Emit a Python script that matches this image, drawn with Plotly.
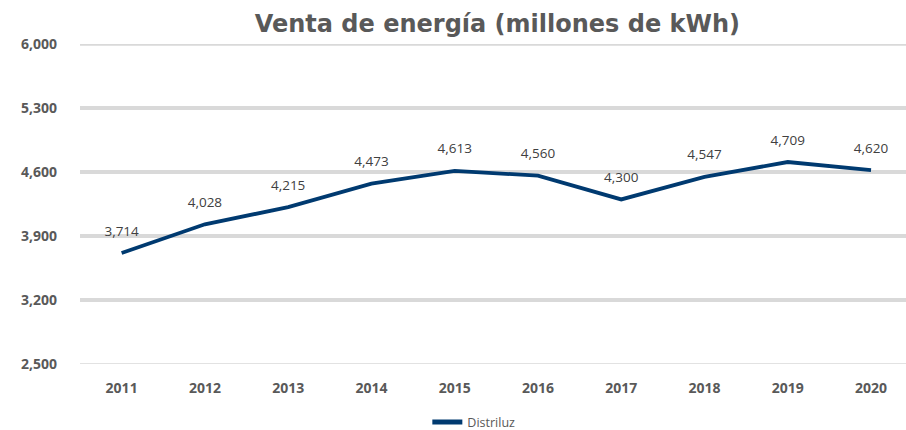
import plotly.graph_objects as go

years = ["2011", "2012", "2013", "2014", "2015", "2016", "2017", "2018", "2019", "2020"]
ventas = [3714, 4028, 4215, 4473, 4613, 4560, 4300, 4547, 4709, 4620]
y_ticks = [2500, 3200, 3900, 4600, 5300, 6000]
series_name = "Distriluz"
title = "Venta de energía (millones de kWh)"

fig = go.Figure()
fig.add_trace(go.Scatter(
    x=years, y=ventas, mode="lines+markers+text", name=series_name,
    line=dict(color="#003A70", width=3.8),
    marker=dict(size=21, color="rgba(0,0,0,0)"),
    text=[f"{v:,}" for v in ventas], textposition="top center",
    textfont=dict(family="Open Sans", size=13.5, color="#404040"),
    cliponaxis=False,
))

fig.update_layout(
    width=906, height=430,
    margin=dict(l=80, r=0, t=44, b=66, autoexpand=False),
    plot_bgcolor="white", paper_bgcolor="white",
    title=dict(text=f"<b>{title}</b>", x=0.549, xanchor="center", xref="container",
               y=0.945, yanchor="middle", yref="container",
               font=dict(family="DejaVu Sans", size=24, color="#595959")),
    showlegend=True,
    legend=dict(orientation="h", x=0.523, xanchor="center", xref="container",
                y=0.018, yanchor="middle", yref="container", itemsizing="constant",
                font=dict(family="Open Sans", size=12.5, color="#595959")),
    xaxis=dict(type="category", range=[-0.5, 9.42], showgrid=False, showline=False,
               automargin=False, ticklabelstandoff=14,
               ticks="", tickfont=dict(family="Open Sans", size=14, color="#595959"),
               tickprefix="<b>", ticksuffix="</b>"),
    yaxis=dict(range=[2500, 6000], tickvals=y_ticks, ticktext=[f"<b>{v:,}</b>" for v in y_ticks],
               showgrid=True, gridcolor="#D9D9D9", gridwidth=3.5, zeroline=False,
               automargin=False,
               showline=False, ticks="", ticklabelstandoff=22,
               tickfont=dict(family="Open Sans", size=14, color="#595959")),
)
fig.add_shape(type="line", xref="paper", yref="y", x0=0, x1=1, y0=2500, y1=2500,
              line=dict(color="#D9D9D9", width=1.5), layer="below")
fig.add_shape(type="line", xref="paper", yref="y", x0=0, x1=1, y0=6000, y1=6000,
              line=dict(color="#D9D9D9", width=3.5), layer="below")
fig.write_html("out.html", config={"displayModeBar": False},
               post_script="document.body.style.margin='0';")
